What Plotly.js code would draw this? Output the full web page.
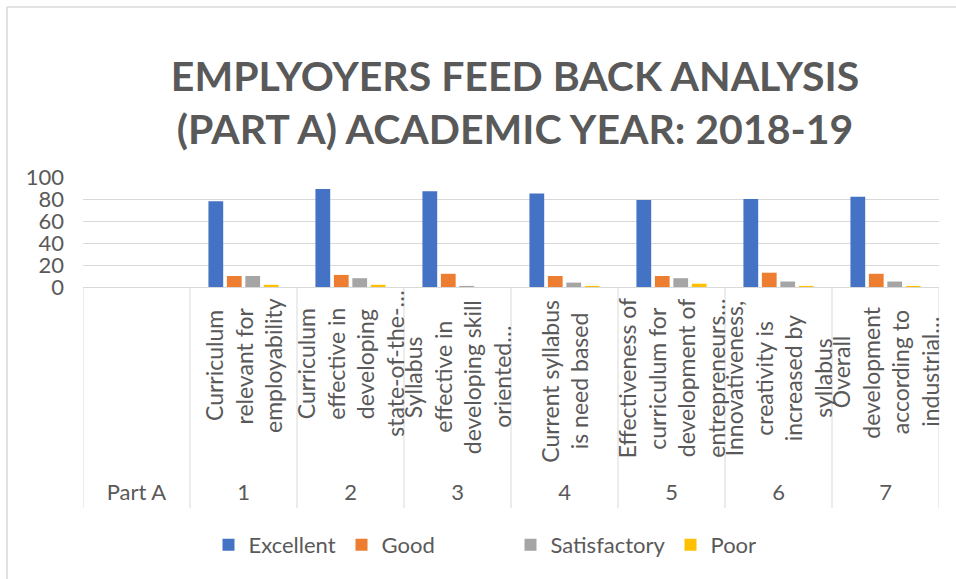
<!DOCTYPE html>
<html>
<head>
<meta charset="utf-8">
<script src="https://cdn.plot.ly/plotly-3.0.1.min.js"></script>
<style>
  html, body { margin: 0; padding: 0; background: #ffffff; }
  #chart { width: 956px; height: 579px; }
</style>
</head>
<body>
<div id="chart"></div>
<script>
// ---------- DATA ----------
const categories = ["Part A", "1", "2", "3", "4", "5", "6", "7"];
const questionLines = [
  [],
  ["Curriculum", "relevant for", "employability"],
  ["Curriculum", "effective in", "developing", "state-of-the-…"],
  ["Syllabus", "effective in", "developing skill", "oriented…"],
  ["Current syllabus", "is need based"],
  ["Effectiveness of", "curriculum for", "development of", "entrepreneurs…"],
  ["Innovativeness,", "creativity is", "increased by", "syllabus"],
  ["Overall", "development", "according to", "industrial…"]
];
const seriesNames = ["Excellent", "Good", "Satisfactory", "Poor"];
const excellent = [null, 78, 89, 87, 85, 79, 80, 82];
const good = [null, 10, 11, 12, 10, 10, 13, 12];
const satisfactory = [null, 10, 8, 1, 4, 8, 5, 5];
const poor = [null, 2, 2, 0, 1, 3, 1, 1];
const yTicks = [0, 20, 40, 60, 80, 100];
const titleText = "EMPLYOYERS FEED BACK ANALYSIS<br>(PART A) ACADEMIC YEAR: 2018-19";

// ---------- STYLE ----------
const W = 956, H = 579;
const M = { l: 83, r: 17, t: 177, b: 292 };
const plotW = W - M.l - M.r, plotH = H - M.t - M.b;
const TXT = "#595959";
const GRID = "#d9d9d9";
const FONT = "Lato, 'Open Sans', sans-serif";
const colors = ["#4472C4", "#ED7D31", "#A5A5A5", "#FFC000"];
const legendNames = ["legend", "legend2", "legend3", "legend4"];
const legendLeftPx = [208.5, 341.5, 510.5, 670.5];
const legendCenterYPx = 545;
const labelCenterYPx = [0, 366, 364, 377, 381, 378, 378, 372];
const lineStep = 29.5;
const separatorBottomPx = 508;

const px2paperX = px => (px - M.l) / plotW;
const px2paperY = py => (H - M.b - py) / plotH;

const seriesValues = [excellent, good, satisfactory, poor];
const traces = seriesValues.map((vals, i) => ({
  type: "bar",
  name: seriesNames[i],
  x: categories,
  y: vals,
  marker: { color: colors[i], line: { width: 0 } },
  legend: legendNames[i],
  hoverinfo: "skip"
}));

// category question labels (rotated)
const annotations = [];
questionLines.forEach((lines, ci) => {
  const n = lines.length;
  lines.forEach((txt, li) => {
    annotations.push({
      xref: "x", yref: "paper",
      x: categories[ci], y: 0,
      xanchor: "center", yanchor: "middle",
      xshift: (li - (n - 1) / 2) * lineStep,
      yshift: -(labelCenterYPx[ci] - (H - M.b)),
      text: txt, textangle: -90, showarrow: false,
      font: { family: FONT, size: 23, color: TXT }
    });
  });
});

// separators
const shapes = [];
for (let i = 0; i <= categories.length; i++) {
  shapes.push({
    type: "line", xref: "x", yref: "paper",
    x0: i - 0.5, x1: i - 0.5, y0: 0, y1: px2paperY(separatorBottomPx),
    line: { color: GRID, width: 1 }
  });
}
// chart frame (top and left)
shapes.push({ type: "line", xref: "paper", yref: "paper",
  x0: px2paperX(7), x1: px2paperX(W), y0: px2paperY(7), y1: px2paperY(7),
  line: { color: GRID, width: 1.5 } });
shapes.push({ type: "line", xref: "paper", yref: "paper",
  x0: px2paperX(7), x1: px2paperX(7), y0: px2paperY(7), y1: px2paperY(H),
  line: { color: GRID, width: 1.5 } });

const legendBase = (i) => ({
  orientation: "h",
  xref: "container", yref: "container",
  x: legendLeftPx[i] / W, xanchor: "left",
  y: 1 - legendCenterYPx / H, yanchor: "middle",
  font: { family: FONT, size: 22, color: TXT },
  bgcolor: "rgba(0,0,0,0)", borderwidth: 0
});

const layout = {
  width: W, height: H,
  margin: M,
  paper_bgcolor: "#ffffff", plot_bgcolor: "#ffffff",
  font: { family: FONT, color: TXT },
  title: {
    text: titleText,
    font: { family: FONT, size: 41, color: TXT, weight: "bold" },
    xref: "container", yref: "container",
    x: 515 / W, xanchor: "center",
    y: 1 - 91 / H, yanchor: "middle"
  },
  barmode: "group",
  bargap: 0.31,
  bargroupgap: 0.2,
  xaxis: {
    type: "category",
    categoryorder: "array", categoryarray: categories,
    range: [-0.5, categories.length - 0.5],
    showgrid: false, zeroline: false,
    showline: true, linecolor: GRID, linewidth: 1,
    ticks: "", ticklabelstandoff: 186,
    tickfont: { family: FONT, size: 22, color: TXT },
    fixedrange: true
  },
  yaxis: {
    range: [0, 100], tickvals: yTicks,
    showgrid: true, gridcolor: GRID, gridwidth: 1,
    zeroline: false, showline: false,
    ticks: "", ticklabelstandoff: 18,
    tickfont: { family: FONT, size: 22, color: TXT },
    fixedrange: true
  },
  showlegend: true,
  legend: legendBase(0),
  legend2: legendBase(1),
  legend3: legendBase(2),
  legend4: legendBase(3),
  annotations: annotations,
  shapes: shapes
};

Plotly.newPlot("chart", traces, layout, { displayModeBar: false, staticPlot: true });
</script>
</body>
</html>
